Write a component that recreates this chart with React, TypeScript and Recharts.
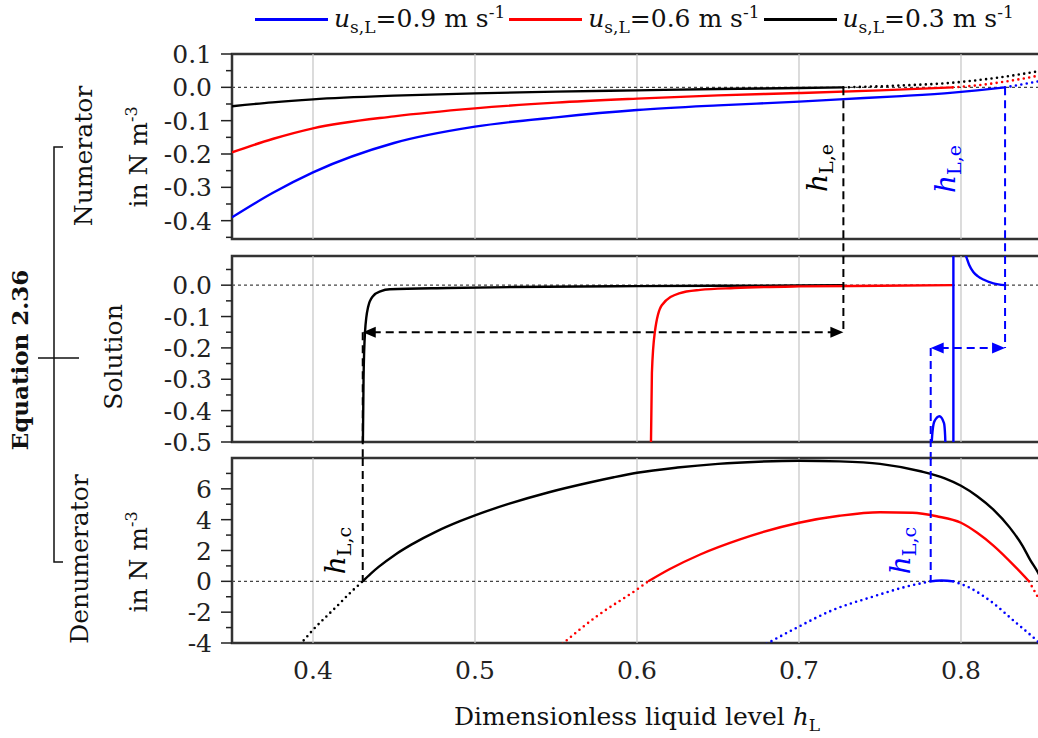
import React from "react";
import {
  LineChart,
  Line,
  XAxis,
  YAxis,
  ReferenceLine,
  ReferenceArea,
  ReferenceDot,
  Label,
} from "recharts";

const FONT = "'DejaVu Serif', serif";
const BLUE = "#0000ff";
const RED = "#ff0000";
const BLACK = "#000000";

// shared x axis (dimensionless liquid level)
const hDomain = [0.35, 0.85];
const gridTicks = [0.4, 0.5, 0.6, 0.7, 0.8];

// legend
const speeds = ["0.9", "0.6", "0.3"];
const speedColors = [BLUE, RED, BLACK];

// numerator panel [h, value]
const numBlue = [[0.35, -0.39], [0.375, -0.317], [0.4, -0.255], [0.45, -0.167], [0.5, -0.118], [0.55, -0.09], [0.6, -0.068], [0.65, -0.054], [0.7, -0.043], [0.725, -0.036], [0.76, -0.027], [0.795, -0.016], [0.81, -0.009], [0.8272, 0]];
const numBlueExt = [[0.8272, 0], [0.838, 0.009], [0.85, 0.02]];
const numRed = [[0.35, -0.195], [0.375, -0.155], [0.4, -0.123], [0.45, -0.087], [0.5, -0.063], [0.55, -0.046], [0.6, -0.034], [0.65, -0.024], [0.7, -0.017], [0.75, -0.009], [0.795, 0]];
const numRedExt = [[0.795, 0], [0.81, 0.006], [0.827, 0.017], [0.85, 0.037]];
const numBlack = [[0.35, -0.057], [0.375, -0.045], [0.4, -0.036], [0.45, -0.025], [0.5, -0.018], [0.55, -0.013], [0.6, -0.009], [0.65, -0.005], [0.7, -0.002], [0.7274, 0]];
const numBlackExt = [[0.7274, 0], [0.76, 0.005], [0.795, 0.014], [0.827, 0.032], [0.85, 0.05]];

// solution panel
const solBlack = [[0.4307, -0.55], [0.4312, -0.3], [0.4321, -0.15], [0.434, -0.07], [0.437, -0.035], [0.442, -0.019], [0.4475, -0.013], [0.483, -0.009], [0.523, -0.006], [0.6, -0.003], [0.7, -0.001], [0.7274, 0]];
const solRed = [[0.6085, -0.55], [0.6092, -0.28], [0.611, -0.15], [0.6153, -0.064], [0.626, -0.026], [0.639, -0.015], [0.66, -0.009], [0.7, -0.004], [0.75, -0.002], [0.795, 0]];
const solBlueLow = [[0.7817, -0.52], [0.7822, -0.48], [0.7835, -0.435], [0.7867, -0.418], [0.7895, -0.44], [0.7902, -0.48], [0.7905, -0.52]];
const solBlueJump = [[0.7953, -0.55], [0.7953, 0.15]];
const solBlueHigh = [[0.8024, 0.1], [0.8031, 0.092], [0.805, 0.065], [0.8076, 0.042], [0.8105, 0.028], [0.8138, 0.018], [0.82, 0.006], [0.8272, 0]];

// denominator panel
const denBlack = [[0.4307, 0], [0.4357, 0.5], [0.4407, 0.95], [0.4507, 1.73], [0.4607, 2.38], [0.4757, 3.21], [0.4907, 3.9], [0.5, 4.28], [0.5207, 5.02], [0.5457, 5.78], [0.5707, 6.41], [0.5857, 6.75], [0.6, 7.04], [0.625, 7.38], [0.65, 7.62], [0.675, 7.76], [0.7, 7.82], [0.725, 7.78], [0.75, 7.62], [0.775, 7.14], [0.79, 6.68], [0.8, 6.2], [0.81, 5.52], [0.82, 4.65], [0.83, 3.5], [0.838, 2.3], [0.8426, 1.41], [0.8475, 0.57], [0.85, 0.05]];
const denBlackExt = [[0.392, -4.1], [0.4, -3.15], [0.4146, -1.63], [0.4239, -0.65], [0.4307, 0]];
const denRed = [[0.607, 0], [0.62, 0.78], [0.639, 1.74], [0.6636, 2.72], [0.7, 3.8], [0.725, 4.25], [0.75, 4.48], [0.77, 4.45], [0.785, 4.22], [0.8, 3.8], [0.81, 3.15], [0.82, 2.32], [0.834, 0.89], [0.842, 0]];
const denRedExtL = [[0.554, -4.05], [0.575, -2.28], [0.5998, -0.54], [0.607, 0]];
const denRedExtR = [[0.842, 0], [0.846, -0.75], [0.85, -1.5]];
const denBlueExtL = [[0.68, -4.05], [0.7, -2.93], [0.72, -1.9], [0.746, -0.98], [0.765, -0.38], [0.7813, 0]];
const denBlue = [[0.7813, 0], [0.7845, 0.04], [0.788, 0.05], [0.7915, 0.04], [0.7953, 0]];
const denBlueExtR = [[0.7953, 0], [0.805, -0.4], [0.8197, -1.4], [0.833, -2.6], [0.844, -3.58], [0.849, -4.05]];

// y axes
const numDomain = [-0.455, 0.1];
const numMajor = [0.1, 0, -0.1, -0.2, -0.3, -0.4];
const numMinor = [0.05, -0.05, -0.15, -0.25, -0.35, -0.45];
const solDomain = [-0.5, 0.093];
const solMajor = [0, -0.1, -0.2, -0.3, -0.4, -0.5];
const solMinor = [0.05, -0.05, -0.15, -0.25, -0.35, -0.45];
const denDomain = [-4, 8];
const denMajor = [6, 4, 2, 0, -2, -4];
const denMinor = [7, 5, 3, 1, -1, -3];

// characteristic levels (black = 0.3 m/s, blue = 0.9 m/s)
const hLeBlack = 0.7274;
const hLeBlue = 0.8272;
const hLcBlack = 0.4307;
const hLcBlue = 0.7813;

const toPts = (a: number[][]) => a.map(([h, v]) => ({ h, v }));

const yTick = (majors: number[], digits: number) => (p: any) => {
  const v = p.payload.value;
  const major = majors.some((m) => Math.abs(m - v) < 1e-9);
  return (
    <g>
      <line x1={p.x - (major ? 11 : 6)} x2={p.x} y1={p.y} y2={p.y} stroke="#222" strokeWidth={1.5} />
      {major && (
        <text x={p.x - 20} y={p.y} dy="0.36em" textAnchor="end" fontFamily={FONT} fontSize={25} fill="#222">
          {v.toFixed(digits)}
        </text>
      )}
    </g>
  );
};

const xTick = (p: any) => (
  <text x={p.x} y={p.y + 36} textAnchor="middle" fontFamily={FONT} fontSize={25} fill="#222">
    {p.payload.value.toFixed(1)}
  </text>
);

const arrowShape = (color: string) => (p: any) => {
  const l = Math.min(p.x1, p.x2);
  const r = Math.max(p.x1, p.x2);
  const y = p.y1;
  return (
    <g>
      <line x1={l + 10} x2={r - 10} y1={y} y2={y} stroke={color} strokeWidth={2} strokeDasharray="8 5" />
      <path d={`M${l} ${y} l13 -5.5 l0 11 z`} fill={color} />
      <path d={`M${r} ${y} l-13 -5.5 l0 11 z`} fill={color} />
    </g>
  );
};

const hLabel = (color: string, sub: string) => (p: any) => (
  <text
    transform={`rotate(-90 ${p.cx} ${p.cy})`}
    x={p.cx}
    y={p.cy}
    textAnchor="middle"
    fill={color}
    fontFamily={FONT}
  >
    <tspan fontStyle="italic" fontSize={28}>h</tspan>
    <tspan fontSize={19} dy={6}>L,{sub}</tspan>
  </text>
);

const curve = (key: string, pts: number[][], color: string, dotted = false, type: any = "monotone") => (
  <Line
    key={key}
    data={toPts(pts)}
    dataKey="v"
    type={type}
    stroke={color}
    strokeWidth={dotted ? 2.6 : 2.4}
    strokeDasharray={dotted ? "0 5.5" : undefined}
    strokeLinecap={dotted ? "round" : "butt"}
    dot={false}
    activeDot={false}
    isAnimationActive={false}
  />
);

const vDash = (key: string, h: number, from: number, to: number, color: string) => (
  <ReferenceLine
    key={key}
    segment={[{ x: h, y: from }, { x: h, y: to }]}
    stroke={color}
    strokeWidth={2}
    strokeDasharray="8 5"
    ifOverflow="visible"
  />
);

const W = 1050;
const MARGIN_X = { left: 172, right: 8 };

const background = (domain: number[]) => [
  ...gridTicks.map((t) => <ReferenceLine key={`g${t}`} x={t} stroke="#c4c4c4" strokeWidth={1.2} />),
  <ReferenceLine key="zero" y={0} stroke="#444" strokeWidth={1.2} strokeDasharray="3 3" />,
  <ReferenceArea
    key="frame"
    x1={hDomain[0]}
    x2={hDomain[1]}
    y1={domain[0]}
    y2={domain[1]}
    fill="none"
    stroke="#333"
    strokeWidth={2.5}
    ifOverflow="visible"
  />,
];

function LegendRow() {
  return (
    <div style={{ position: "absolute", top: 0, left: 255, height: 40, display: "flex", alignItems: "center", gap: 4 }}>
      {speeds.map((s, i) => (
        <div key={s} style={{ display: "flex", alignItems: "center" }}>
          <span style={{ display: "inline-block", width: 73, height: 3, background: speedColors[i], marginRight: 6 }} />
          <span style={{ fontFamily: FONT, fontSize: 25, whiteSpace: "nowrap", color: "#111" }}>
            <i>u</i>
            <sub style={{ fontSize: 17 }}>s,L</sub>={s} m s<sup style={{ fontSize: 17 }}>-1</sup>
          </span>
        </div>
      ))}
    </div>
  );
}

function SideLabels() {
  const rot = (x: number, y: number, text: React.ReactNode, extra: any = {}) => (
    <text transform={`rotate(-90 ${x} ${y})`} x={x} y={y} textAnchor="middle" fontFamily={FONT} fontSize={25} fill="#111" {...extra}>
      {text}
    </text>
  );
  const unit = (
    <>
      in N m<tspan fontSize={16} dy={-10}>-3</tspan>
    </>
  );
  return (
    <svg width={232} height={738} style={{ position: "absolute", left: 0, top: 0 }}>
      {rot(92, 156, "Numerator")}
      {rot(147, 157, unit)}
      {rot(122, 357, "Solution")}
      {rot(88, 559, "Denumerator")}
      {rot(147, 562, unit)}
      {rot(28, 360, "Equation 2.36", { fontWeight: "bold", fontSize: 23 })}
      <path d="M63 147 H54 V562 H63" fill="none" stroke="#111" strokeWidth={1.5} />
      <path d="M38 358 H79" fill="none" stroke="#111" strokeWidth={1.5} />
    </svg>
  );
}

export default function App() {
  return (
    <div style={{ position: "absolute", left: 0, top: 0, width: 1038, height: 738, overflow: "hidden", background: "#fff" }}>
      <LegendRow />
      <SideLabels />

      {/* Numerator */}
      <div style={{ position: "absolute", left: 0, top: 0 }}>
        <LineChart width={W} height={262} margin={{ top: 54, bottom: 23, ...MARGIN_X }}>
          <XAxis dataKey="h" type="number" domain={hDomain} allowDataOverflow hide />
          <YAxis
            type="number"
            domain={numDomain}
            allowDataOverflow
            width={60}
            ticks={[...numMajor, ...numMinor]}
            tick={yTick(numMajor, 1)}
            tickSize={0}
            tickMargin={0}
            tickLine={false}
            axisLine={false}
            interval={0}
          />
          {background(numDomain)}
          {curve("nbk", numBlack, BLACK)}
          {curve("nbkx", numBlackExt, BLACK, true)}
          {curve("nr", numRed, RED)}
          {curve("nrx", numRedExt, RED, true)}
          {curve("nb", numBlue, BLUE)}
          {curve("nbx", numBlueExt, BLUE, true)}
          {vDash("leK", hLeBlack, 0, -0.51, BLACK)}
          {vDash("leB", hLeBlue, 0, -0.51, BLUE)}
          <ReferenceDot x={0.7173} y={-0.242} shape={hLabel(BLACK, "e")} />
          <ReferenceDot x={0.7963} y={-0.245} shape={hLabel(BLUE, "e")} />
        </LineChart>
      </div>

      {/* Solution */}
      <div style={{ position: "absolute", left: 0, top: 236 }}>
        <LineChart width={W} height={226} margin={{ top: 20, bottom: 20, ...MARGIN_X }}>
          <XAxis dataKey="h" type="number" domain={hDomain} allowDataOverflow hide />
          <YAxis
            type="number"
            domain={solDomain}
            allowDataOverflow
            width={60}
            ticks={[...solMajor, ...solMinor]}
            tick={yTick(solMajor, 1)}
            tickSize={0}
            tickMargin={0}
            tickLine={false}
            axisLine={false}
            interval={0}
          />
          {background(solDomain)}
          {curve("sbk", solBlack, BLACK)}
          {curve("sr", solRed, RED)}
          {curve("sbl", solBlueLow, BLUE)}
          {curve("sbj", solBlueJump, BLUE, false, "linear")}
          {curve("sbh", solBlueHigh, BLUE)}
          {vDash("leK2", hLeBlack, solDomain[1], -0.15, BLACK)}
          {vDash("leB2", hLeBlue, solDomain[1], -0.2, BLUE)}
          {vDash("lcK2", hLcBlack, -0.15, -0.56, BLACK)}
          {vDash("lcB2", hLcBlue, -0.2, -0.56, BLUE)}
          <ReferenceLine
            segment={[{ x: hLcBlack, y: -0.15 }, { x: hLeBlack, y: -0.15 }]}
            shape={arrowShape(BLACK)}
            ifOverflow="visible"
          />
          <ReferenceLine
            segment={[{ x: hLcBlue, y: -0.2 }, { x: hLeBlue, y: -0.2 }]}
            shape={arrowShape(BLUE)}
            ifOverflow="visible"
          />
        </LineChart>
      </div>

      {/* Denominator */}
      <div style={{ position: "absolute", left: 0, top: 440 }}>
        <LineChart width={W} height={298} margin={{ top: 18, bottom: 35, ...MARGIN_X }}>
          <XAxis
            dataKey="h"
            type="number"
            domain={hDomain}
            allowDataOverflow
            ticks={gridTicks}
            tick={xTick}
            tickSize={0}
            tickMargin={0}
            tickLine={false}
            axisLine={false}
            height={60}
            interval={0}
          >
            <Label
              content={(p: any) => (
                <text
                  x={p.viewBox.x + p.viewBox.width / 2}
                  y={p.viewBox.y + 82}
                  textAnchor="middle"
                  fontFamily={FONT}
                  fontSize={25}
                  fill="#111"
                >
                  Dimensionless liquid level <tspan fontStyle="italic">h</tspan>
                  <tspan fontSize={17} dy={6}>L</tspan>
                </text>
              )}
            />
          </XAxis>
          <YAxis
            type="number"
            domain={denDomain}
            allowDataOverflow
            width={60}
            ticks={[...denMajor, ...denMinor]}
            tick={yTick(denMajor, 0)}
            tickSize={0}
            tickMargin={0}
            tickLine={false}
            axisLine={false}
            interval={0}
          />
          {background(denDomain)}
          {curve("dbk", denBlack, BLACK)}
          {curve("dbkx", denBlackExt, BLACK, true)}
          {curve("dr", denRed, RED)}
          {curve("drxl", denRedExtL, RED, true)}
          {curve("drxr", denRedExtR, RED, true)}
          {curve("dbxl", denBlueExtL, BLUE, true)}
          {curve("db", denBlue, BLUE)}
          {curve("dbxr", denBlueExtR, BLUE, true)}
          {vDash("lcK3", hLcBlack, denDomain[1], 0, BLACK)}
          {vDash("lcB3", hLcBlue, denDomain[1], 0, BLUE)}
          <ReferenceDot x={0.4198} y={2.0} shape={hLabel(BLACK, "c")} />
          <ReferenceDot x={0.7685} y={2.0} shape={hLabel(BLUE, "c")} />
        </LineChart>
      </div>
    </div>
  );
}
